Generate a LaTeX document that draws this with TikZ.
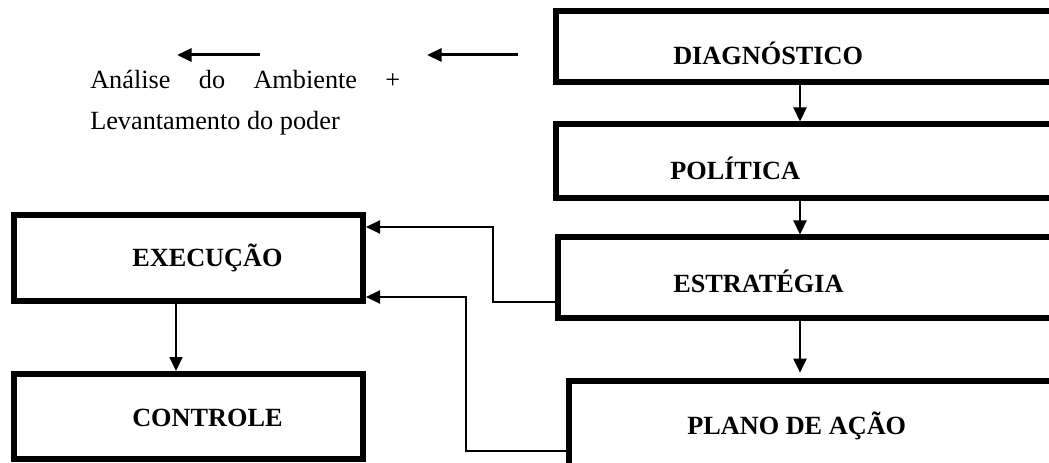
\documentclass[tikz,border=0pt]{standalone}
\usepackage{fontspec}
\setmainfont{Liberation Serif}
\usetikzlibrary{arrows.meta}
\def\u{0.75pt}
\begin{document}
\begin{tikzpicture}[x=0.75pt,y=-0.75pt,
  box/.style={draw, line width=4.5pt, rectangle, inner sep=0pt, anchor=north west},
  lbl/.style={font=\fontsize{19.7pt}{24pt}\selectfont\bfseries, anchor=base west, inner sep=0pt},
  txt/.style={font=\fontsize{19.7pt}{24pt}\selectfont, anchor=base west, inner sep=0pt},
  conn/.style={line width=1.6pt, -{Triangle[length=10.5pt,width=9.75pt]}},
  topar/.style={line width=2.25pt, -{Triangle[length=11pt,width=9.75pt]}}]
\useasboundingbox (0,0) rectangle (1049,463);
\clip (0,0) rectangle (1049,463);
% boxes
\node[box, minimum width=600*\u, minimum height=71*\u] (diag) at (553,8) {};
\node[box, minimum width=600*\u, minimum height=73.5*\u] (pol) at (553,121.5) {};
\node[box, minimum width=600*\u, minimum height=80*\u] (est) at (554.5,234.5) {};
\node[box, minimum width=600*\u, minimum height=100*\u] (plano) at (566,378) {};
\node[box, minimum width=349*\u, minimum height=86*\u] (exec) at (11,212) {};
\node[box, minimum width=349*\u, minimum height=85*\u] (ctrl) at (11,371) {};
% labels
\node[lbl] (diagT) at (673,65) {DIAGNÓSTICO};
\node[lbl] (polT) at (670,180) {POLÍTICA};
\node[lbl] (estT) at (673,292) {ESTRATÉGIA};
\node[lbl] (planoT) at (687,434) {PLANO DE AÇÃO};
\node[lbl] (execT) at (132,267) {EXECUÇÃO};
\node[lbl] (ctrlT) at (132,426) {CONTROLE};
% free text
\node[txt] (t1) at (90,89) {\hbox to 232.5pt{Análise\hfill do\hfill Ambiente\hfill +}};
\node[txt] (t2) at (90,130) {Levantamento do poder};
% vertical connectors
\coordinate (colR) at (800,0);
\coordinate (colL) at (176,0);
\draw[conn] (diag.south -| colR) -- (pol.north -| colR);
\draw[conn] (pol.south -| colR) -- (est.north -| colR);
\draw[conn] (est.south -| colR) -- ([yshift=4pt]plano.north -| colR);
\draw[conn] (exec.south -| colL) -- (ctrl.north -| colL);
% feedback connectors
\coordinate (bendA) at (493,302);
\coordinate (bendA2) at (493,227);
\draw[conn] (est.west |- bendA) -- (bendA) -- (bendA2) -- (exec.east |- bendA2);
\coordinate (bendB) at (466,451);
\coordinate (bendB2) at (466,297);
\draw[conn] (plano.west |- bendB) -- (bendB) -- (bendB2) -- (exec.east |- bendB2);
% top arrows
\coordinate (a1s) at (260,55);
\coordinate (a1e) at (177,55);
\coordinate (a2s) at (518,55);
\coordinate (a2e) at (427,55);
\draw[topar] (a1s) -- (a1e);
\draw[topar] (a2s) -- (a2e);
\end{tikzpicture}
\end{document}
